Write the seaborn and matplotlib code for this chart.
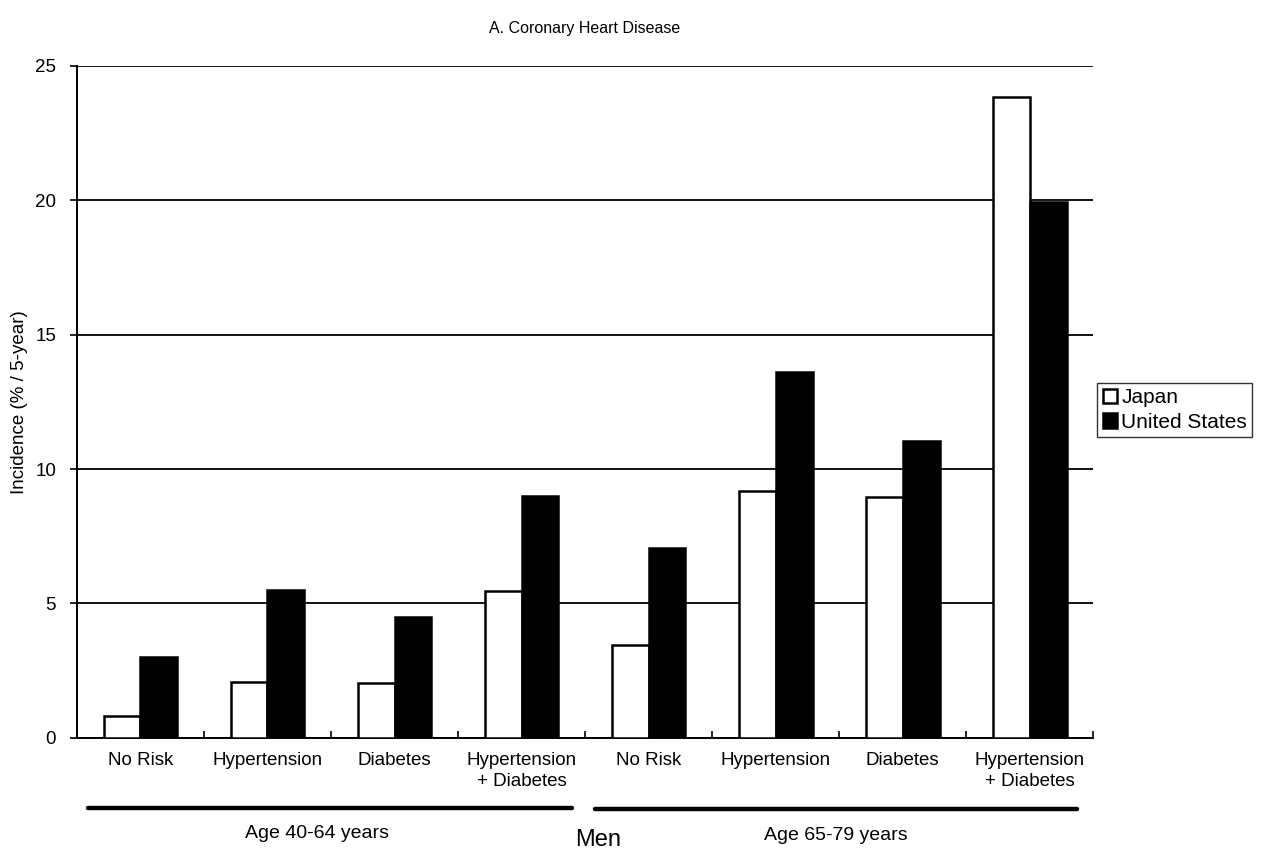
import numpy as np
import pandas as pd
import matplotlib
matplotlib.use("Agg")
import matplotlib.pyplot as plt
import seaborn as sns

# data
categories = ["No Risk", "Hypertension", "Diabetes", "Hypertension\n+ Diabetes",
              "No Risk", "Hypertension", "Diabetes", "Hypertension\n+ Diabetes"]
japan = [0.8, 2.07, 2.05, 5.45, 3.45, 9.2, 8.95, 23.85]
united_states = [3.0, 5.5, 4.5, 9.0, 7.05, 13.6, 11.05, 19.95]
countries = ["Japan", "United States"]
age_groups = ["Age 40-64 years", "Age 65-79 years"]

sns.set_theme(style="white", rc={"text.color": "black", "axes.labelcolor": "black",
                                 "xtick.color": "black", "ytick.color": "black"})
plt.rcParams["font.family"] = ["Liberation Sans", "DejaVu Sans"]

slots = [f"c{i}" for i in range(len(categories))]
df = pd.DataFrame({
    "slot": slots * 2,
    "country": [countries[0]] * len(slots) + [countries[1]] * len(slots),
    "value": japan + united_states,
})

fig = plt.figure(figsize=(12.61, 8.55), dpi=100)
ax = fig.add_axes([0.061, 0.137, 0.806, 0.786])

sns.barplot(data=df, x="slot", y="value", hue="country", order=slots,
            hue_order=countries, palette=["white", "black"], width=0.58,
            edgecolor="black", linewidth=1.8, saturation=1, ax=ax, zorder=3)

ax.set_ylim(0, 25)
ax.set_xlim(-0.5, len(slots) - 0.5)
ax.set_yticks(np.arange(0, 26, 5))
ax.yaxis.grid(True, color="black", linewidth=1.3)
ax.set_axisbelow(True)
for s in ["top", "right"]:
    ax.spines[s].set_visible(False)
for s in ["left", "bottom"]:
    ax.spines[s].set_color("black")
    ax.spines[s].set_linewidth(1.4)

ax.set_xticks(range(len(slots)))
ax.set_xticklabels(categories, fontsize=13.5, linespacing=1.35)
ax.tick_params(axis="x", length=0, pad=10)
ax.tick_params(axis="y", labelsize=13.5, length=5, width=1.2, color="black",
               left=True, pad=10)
ax.set_xticks(np.arange(0.5, len(slots), 1), minor=True)
ax.tick_params(axis="x", which="minor", direction="in", length=5, width=1.2,
               color="black", bottom=True)
ax.set_xlabel("")
ax.set_ylabel("Incidence (% / 5-year)", fontsize=13.5, labelpad=5)

ax.set_title("A. Coronary Heart Disease", fontsize=11.5, pad=24)

# group underlines and labels
trans = ax.get_xaxis_transform()
ax.plot([-0.41, 3.40], [-0.104, -0.104], color="black", lw=3.2, transform=trans, clip_on=False)
ax.plot([3.58, 7.37], [-0.106, -0.106], color="black", lw=3.2, transform=trans, clip_on=False)
ax.text(1.39, -0.143, age_groups[0], ha="center", va="center", fontsize=14, transform=trans)
ax.text(5.47, -0.145, age_groups[1], ha="center", va="center", fontsize=14, transform=trans)
ax.text(3.6, -0.152, "Men", ha="center", va="center", fontsize=17, transform=trans)

handles, labels = ax.get_legend_handles_labels()
ax.legend(handles, labels, loc="center left", bbox_to_anchor=(1.004, 0.488),
          frameon=True, fancybox=False, edgecolor="black", fontsize=15,
          handlelength=0.7, handleheight=0.7, handletextpad=0.2,
          borderpad=0.25, labelspacing=0.25, borderaxespad=0)

fig.savefig("out.png", dpi=100)
